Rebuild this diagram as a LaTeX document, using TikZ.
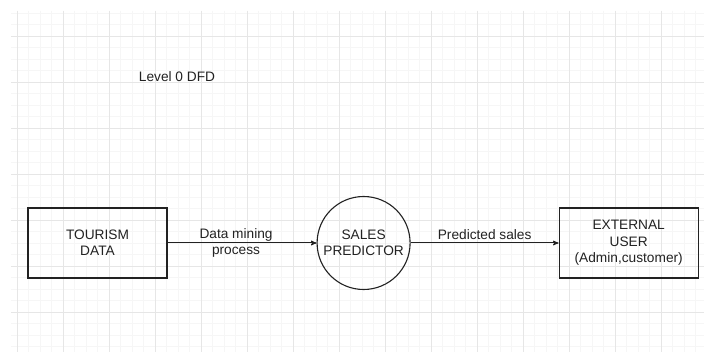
\documentclass[tikz,border=0pt]{standalone}
\usepackage{fontspec}
\setmainfont{Liberation Sans}
\usepackage{xcolor}
\usetikzlibrary{arrows}
\usetikzlibrary{positioning}
\definecolor{minorgrid}{HTML}{F6F6F6}
\definecolor{majorgrid}{HTML}{E6E6E6}
\definecolor{ink}{HTML}{222222}

\begin{document}
\begin{tikzpicture}[x=1pt,y=-1pt,>=stealth',line width=1pt,font=\fontsize{13.7}{16.4}\selectfont]
 \tikzstyle{entity}=[draw=ink, rectangle, line width=1.1pt, minimum width=139pt, minimum height=70pt, align=center, text=ink]
 \tikzstyle{process}=[draw=ink, circle, line width=1.1pt, minimum size=93pt, inner sep=0pt, align=center, text=ink]
 \tikzstyle{flow}=[-{stealth'[scale=1.5]}, draw=ink]
 \useasboundingbox (0,0) rectangle (704,352);
 \fill[white] (0,0) rectangle (704,352);
 % background grid
 \foreach \x in {17,28.5,...,704} \draw[minorgrid,line width=0.6pt] (\x,11) -- (\x,352);
 \foreach \y in {13,24.5,...,352} \draw[minorgrid,line width=0.6pt] (11,\y) -- (704,\y);
 \foreach \x in {17,63,...,704} \draw[majorgrid,line width=0.8pt] (\x,11) -- (\x,352);
 \foreach \y in {36,82,...,352} \draw[majorgrid,line width=0.8pt] (11,\y) -- (704,\y);
 \node[text=ink] (title) at (177,77) {Level 0 DFD};
 \node[entity]   (tour) at (97.5,243) {TOURISM\\DATA};
 \node[process]  (pred) [right=149pt of tour] {SALES\\PREDICTOR};
 \node[entity]   (user) [right=148pt of pred] {EXTERNAL\\USER\\(Admin,customer)};
 \path
  (tour) edge [flow] node[align=center, text=ink, xshift=-6pt] {Data mining\\process} (pred)
  (pred) edge [flow] node[above, text=ink] {Predicted sales} (user);
\end{tikzpicture}
\end{document}
